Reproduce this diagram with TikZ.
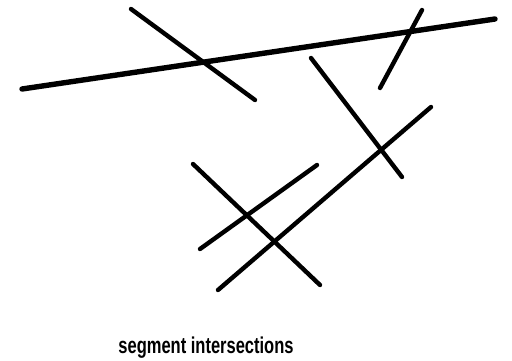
\documentclass[tikz,border=0pt]{standalone}
\usepackage{fontspec}
\newfontfamily\capfont[FakeStretch=0.72]{Liberation Sans Bold}
\usetikzlibrary{positioning}
\tikzset{seg/.style={line width=4.4bp, line cap=round, black},
  longseg/.style={seg, line width=5.4bp},
  captext/.style={font=\capfont\fontsize{23}{26}\selectfont, inner sep=0pt, anchor=base}}

\begin{document}
\begin{tikzpicture}[x=1bp, y=-1bp]
  \useasboundingbox (0,0) rectangle (512,360);
  % segment end points
  \coordinate (a1) at (22,89);   \coordinate (a2) at (495,19);
  \coordinate (b1) at (131,9);   \coordinate (b2) at (255,100);
  \coordinate (c1) at (422,10);  \coordinate (c2) at (380,88);
  \coordinate (d1) at (311,58);  \coordinate (d2) at (402,177);
  \coordinate (e1) at (431,107); \coordinate (e2) at (218,290);
  \coordinate (f1) at (193,164); \coordinate (f2) at (320,285);
  \coordinate (g1) at (200,249); \coordinate (g2) at (317,165);
  % segments
  \draw[longseg] (a1) -- (a2);
  \draw[seg] (b1) -- (b2);
  \draw[seg] (c1) -- (c2);
  \draw[seg] (d1) -- (d2);
  \draw[seg] (e1) -- (e2);
  \draw[seg] (f1) -- (f2);
  \draw[seg] (g1) -- (g2);
  % caption
  \node[captext] (caption) at (206,353) {segment intersections};
\end{tikzpicture}
\end{document}
